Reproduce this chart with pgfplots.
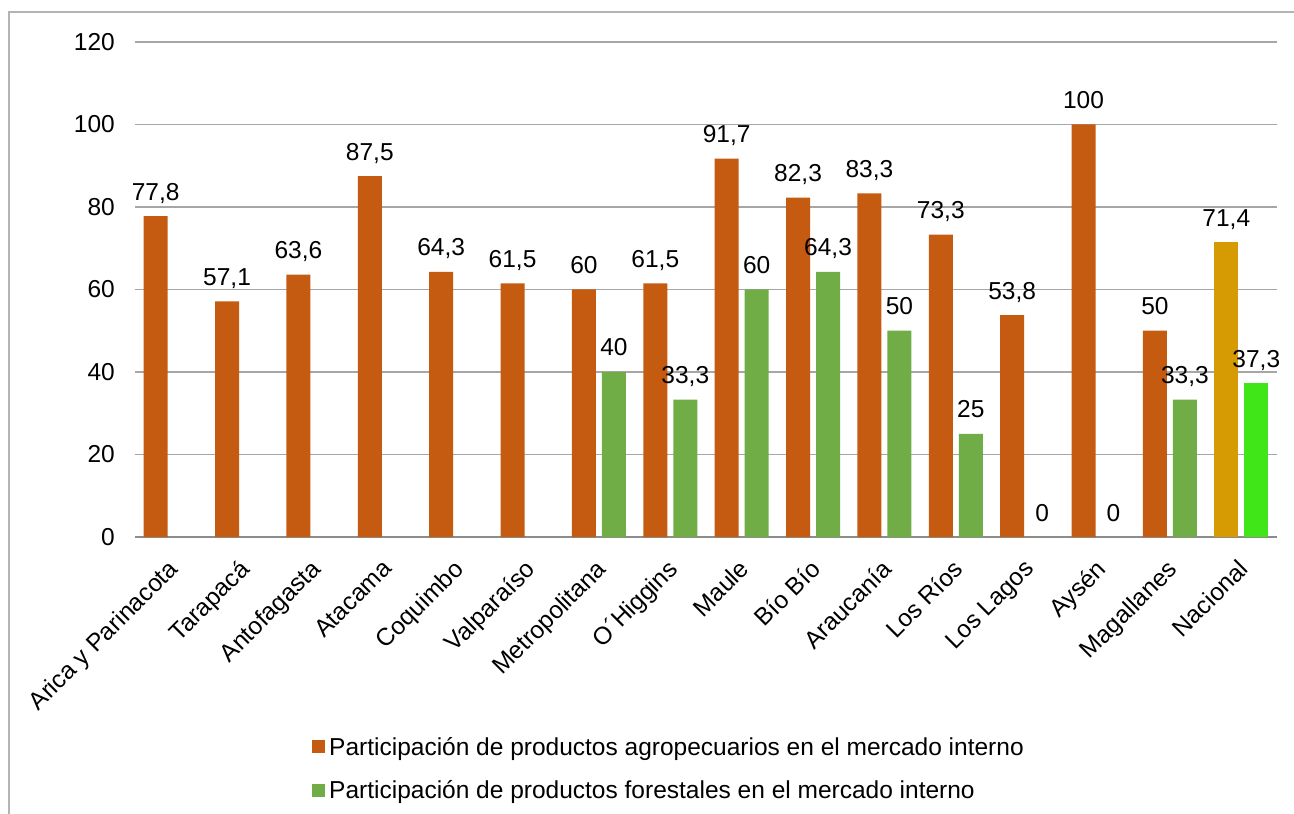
\documentclass[border=0pt]{standalone}
\usepackage{fontspec}
\setmainfont{Liberation Sans}
\usepackage{pgfplots}
\pgfplotsset{compat=1.18}
\definecolor{orangeA}{HTML}{C55A11}
\definecolor{greenA}{HTML}{70AD47}
\definecolor{goldN}{HTML}{D69A02}
\definecolor{greenN}{HTML}{40E617}
\definecolor{gridc}{HTML}{A6A6A6}
\definecolor{axisc}{HTML}{8C8C8C}
\definecolor{framec}{HTML}{B4B4B4}
\newcommand{\chartfont}{\fontsize{24.5bp}{29bp}\selectfont}
\begin{document}
\begin{tikzpicture}
\useasboundingbox (0,0) rectangle (1294bp,814bp);
\draw[framec, line width=2bp] (9bp,0) -- (9bp,802bp) -- (1294bp,802bp);
\begin{axis}[
  at={(135bp,277bp)}, anchor=south west,
  scale only axis, width=1142bp, height=495bp,
  xmin=-0.5, xmax=15.5, ymin=0, ymax=120,
  enlargelimits=false, clip=false,
  font=\chartfont,
  ytick={0,20,...,120},
  xtick={0,...,15},
  xticklabels={Arica y Parinacota, Tarapacá, Antofagasta, Atacama, Coquimbo, Valparaíso, Metropolitana, O´Higgins, Maule, Bío Bío, Araucanía, Los Ríos, Los Lagos, Aysén, Magallanes, Nacional},
  xticklabel style={yshift=-21bp, xshift=-4bp, rotate=45, anchor=north east, inner sep=0pt, font=\chartfont},
  yticklabel style={anchor=east, inner sep=0pt, xshift=-20bp, font=\chartfont},
  /pgf/number format/.cd, use comma, fixed, precision=1, 1000 sep={}, assume math mode=true,
  /pgfplots/.cd,
  separate axis lines,
  axis x line*=bottom, axis y line*=left,
  x axis line style={axisc, line width=1.5bp},
  y axis line style={draw=none},
  major tick length=0pt, tick style={draw=none},
  ymajorgrids, grid style={gridc, line width=1.3bp},
  ybar, bar width=24bp,
  nodes near coords,
  every node near coord/.append style={anchor=base, inner sep=0pt, yshift=16bp, text=black, font=\chartfont},
  legend image code/.code={\fill[#1] (0bp,-6.5bp) rectangle (13bp,6.5bp);},
  legend cell align=left,
  legend style={at={(axis description cs:0.155,-0.404)}, anchor=north west, draw=none, fill=none, inner sep=0pt, row sep=24bp, column sep=4bp, font=\chartfont, nodes={inner sep=0pt}},
]
\addplot[fill=orangeA, draw=none, bar shift=-15bp] coordinates {(0,77.8) (1,57.1) (2,63.6) (3,87.5) (4,64.3) (5,61.5) (6,60) (7,61.5) (8,91.7) (9,82.3) (10,83.3) (11,73.3) (12,53.8) (13,100) (14,50)};
\addlegendentry{Participación de productos agropecuarios en el mercado interno}
\addplot[fill=greenA, draw=none, bar shift=15bp] coordinates {(6,40) (7,33.3) (8,60) (9,64.3) (10,50) (11,25) (12,0) (13,0) (14,33.3)};
\addlegendentry{Participación de productos forestales en el mercado interno}
\addplot[fill=goldN, draw=none, bar shift=-15bp, forget plot] coordinates {(15,71.4)};
\addplot[fill=greenN, draw=none, bar shift=15bp, forget plot] coordinates {(15,37.3)};
\end{axis}
\end{tikzpicture}
\end{document}
